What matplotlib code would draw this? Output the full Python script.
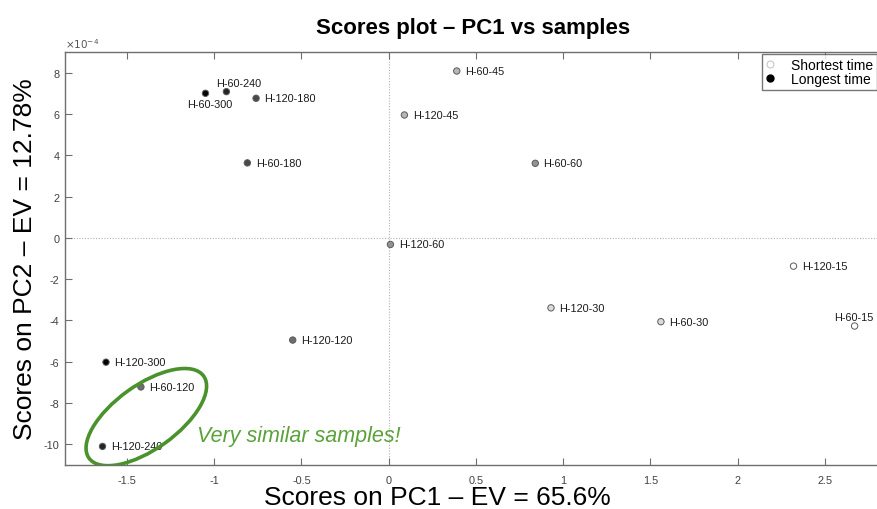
import matplotlib
matplotlib.use("Agg")
import matplotlib.pyplot as plt
import matplotlib.transforms as mtransforms
from matplotlib.patches import Ellipse
from matplotlib.lines import Line2D
from matplotlib.ticker import FuncFormatter, MultipleLocator

plt.rcParams["font.family"] = ["Liberation Sans", "DejaVu Sans"]
plt.rcParams["axes.unicode_minus"] = False

# Sample names, PCA scores and hydrolysis time (min)
samples = ["H-60-300", "H-60-240", "H-120-180", "H-60-180", "H-60-45", "H-120-45",
           "H-60-60", "H-120-60", "H-120-15", "H-120-30", "H-60-30", "H-60-15",
           "H-120-120", "H-120-300", "H-60-120", "H-120-240"]
pc1 = [-1.05, -0.93, -0.76, -0.81, 0.39, 0.09,
       0.84, 0.01, 2.32, 0.93, 1.56, 2.67,
       -0.55, -1.62, -1.42, -1.64]
pc2 = [7.00e-4, 7.08e-4, 6.76e-4, 3.63e-4, 8.08e-4, 5.95e-4,
       3.61e-4, -0.32e-4, -1.37e-4, -3.39e-4, -4.06e-4, -4.27e-4,
       -4.95e-4, -6.02e-4, -7.22e-4, -10.1e-4]
times = [300, 240, 180, 180, 45, 45,
         60, 60, 15, 30, 30, 15,
         120, 300, 120, 240]
time_levels = [15, 30, 45, 60, 120, 180, 240, 300]

# grey level: white for the shortest time, black for the longest
n = len(time_levels) - 1
shade = {t: str(round(1 - i / n, 3)) for i, t in enumerate(time_levels)}
fill = [shade[t] for t in times]

# label placement (offset in points, alignment) for crowded points
label_pos = {
    "H-60-240": (9, 6, "center", "center"),
    "H-60-300": (3, -7.5, "center", "center"),
    "H-60-15": (-0.7, 6.5, "center", "center"),
}

fig = plt.figure(figsize=(8.78, 5.10), dpi=100)
ax = fig.add_axes([65 / 878, 44 / 510, 817 / 878, 413 / 510])

ax.axhline(0, color="#b0b0b0", lw=0.8, ls=(0, (1, 1.5)), zorder=0)
ax.axvline(0, color="#b0b0b0", lw=0.8, ls=(0, (1, 1.5)), zorder=0)

ax.scatter(pc1, pc2, s=21, c=fill, edgecolors="#5a5a5a", linewidths=0.7, zorder=3)

for name, x, y in zip(samples, pc1, pc2):
    dx, dy, ha, va = label_pos.get(name, (6, 0, "left", "center"))
    ax.annotate(name, (x, y), xytext=(dx, dy), textcoords="offset points",
                ha=ha, va=va, fontsize=7.8, color="#1a1a1a", zorder=4)

# highlight of the two nearly identical samples
ell_tr = fig.dpi_scale_trans + mtransforms.ScaledTranslation(-1.389, -8.68e-4, ax.transData)
ax.add_patch(Ellipse((0, 0), 1.41, 0.64, angle=35.6, transform=ell_tr,
                     fill=False, edgecolor="#4a922c", lw=2.6, zorder=5))
ax.text(-1.099, -9.58e-4, "Very similar samples!", fontsize=15.5, style="italic",
        color="#5aa23a", ha="left", va="center")

ax.set_xlim(-1.855, 2.827)
ax.set_ylim(-11e-4, 9e-4)
ax.xaxis.set_major_locator(MultipleLocator(0.5))
ax.yaxis.set_major_locator(MultipleLocator(2e-4))
ax.xaxis.set_major_formatter(FuncFormatter(lambda v, p: f"{v:g}"))
ax.yaxis.set_major_formatter(FuncFormatter(lambda v, p: f"{round(v * 1e4, 6):g}"))
ax.text(0.0, 1.006, r"$\times10^{-4}$", transform=ax.transAxes, fontsize=7.5,
        color="#555555", ha="left", va="bottom")

for side in ["top", "bottom", "left", "right"]:
    ax.spines[side].set_color("#6e6e6e")
    ax.spines[side].set_linewidth(1.0)
ax.tick_params(axis="both", direction="in", length=5, width=0.8, color="#6e6e6e",
               labelsize=7.8, labelcolor="#404040", top=True, right=False)
ax.tick_params(axis="x", pad=7)
ax.tick_params(axis="y", pad=4)

ax.set_title("Scores plot \u2013 PC1 vs samples", fontsize=16, fontweight="bold", pad=14)
ax.set_xlabel("Scores on PC1 \u2013 EV = 65.6%", fontsize=19)
ax.xaxis.set_label_coords(0.456, -0.048)
ax.set_ylabel("Scores on PC2 \u2013 EV = 12.78%", fontsize=19)
ax.yaxis.set_label_coords(-0.034, 0.5)

handles = [
    Line2D([], [], ls="none", marker="o", markersize=5, markerfacecolor="white",
           markeredgecolor="#c0c0c0", markeredgewidth=0.7, label="Shortest time"),
    Line2D([], [], ls="none", marker="o", markersize=5, markerfacecolor="black",
           markeredgecolor="black", label="Longest time"),
]
leg = ax.legend(handles=handles, loc="upper right", bbox_to_anchor=(877, 455),
                bbox_transform=mtransforms.IdentityTransform(), fontsize=10,
                frameon=True, fancybox=False, borderpad=0.3, handlelength=0.6,
                handletextpad=1.2, labelspacing=0.0, borderaxespad=0)
leg.get_frame().set_edgecolor("#555555")
leg.get_frame().set_linewidth(1.0)

fig.savefig("out.png", dpi=100)
